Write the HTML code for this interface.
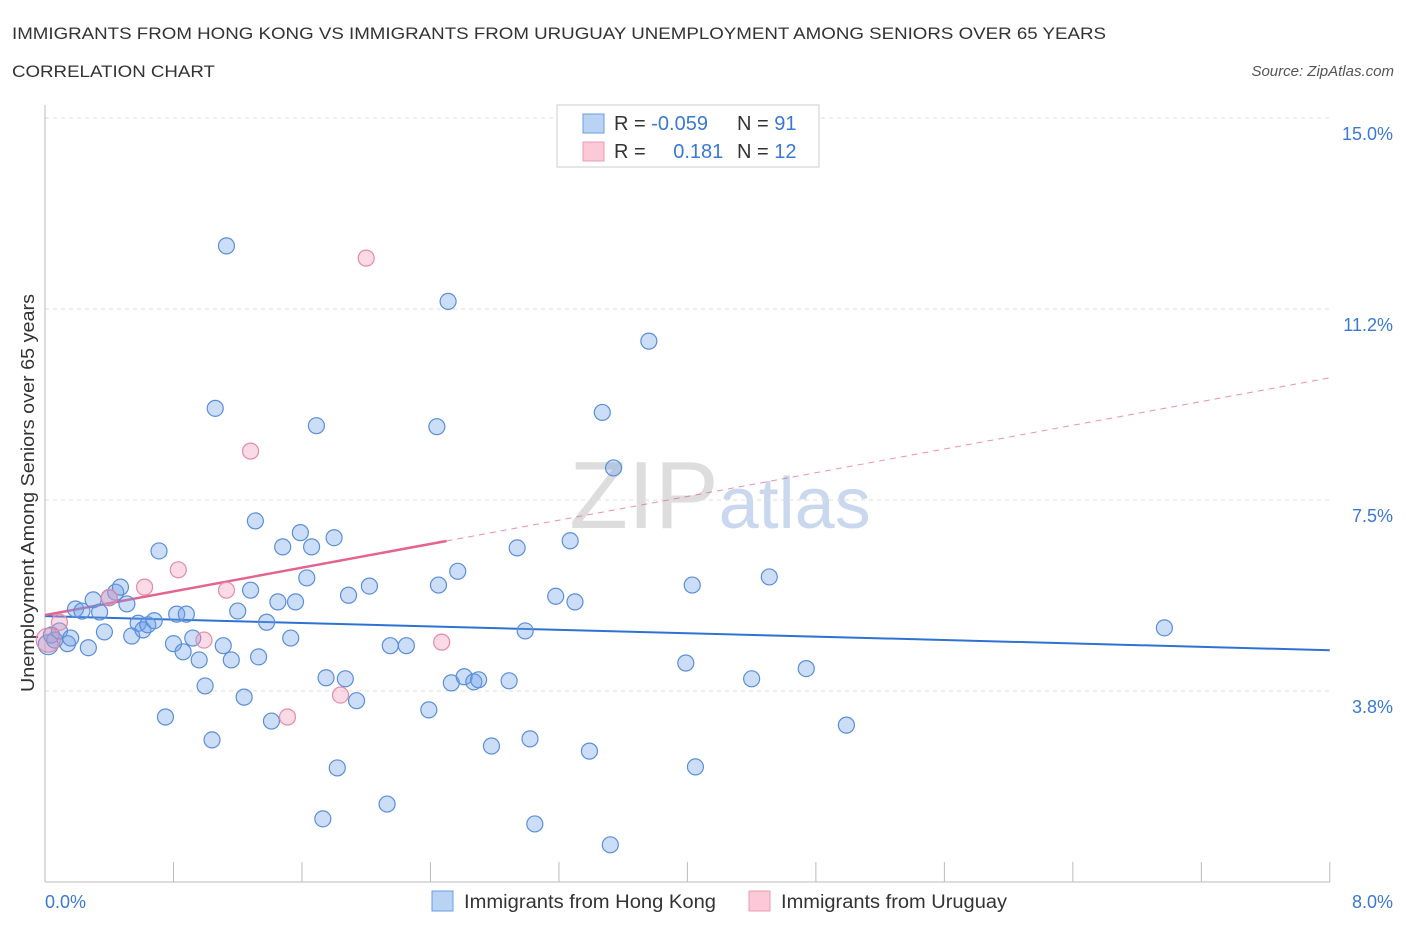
<!DOCTYPE html>
<html><head><meta charset="utf-8"><style>
body{margin:0;background:#fff;font-family:"Liberation Sans",sans-serif;}
svg text{font-family:"Liberation Sans",sans-serif;}
</style></head><body>
<svg width="1406" height="930">
<text x="12" y="39" font-size="17" fill="#333" textLength="1094" lengthAdjust="spacingAndGlyphs">IMMIGRANTS FROM HONG KONG VS IMMIGRANTS FROM URUGUAY UNEMPLOYMENT AMONG SENIORS OVER 65 YEARS</text>
<text x="12" y="77" font-size="17" fill="#333" textLength="203" lengthAdjust="spacingAndGlyphs">CORRELATION CHART</text>
<text x="1394" y="76" font-size="15" fill="#555" font-style="italic" text-anchor="end">Source: ZipAtlas.com</text>
<text x="720" y="528" font-size="96" fill="#ddd" text-anchor="middle" font-family="Liberation Serif">ZIP<tspan fill="#c9d8ee" font-family="Liberation Sans" font-size="72">atlas</tspan></text>
<g id="grid"></g>
<line x1="45" y1="105" x2="45" y2="882" stroke="#bbb"/>
<line x1="45" y1="882" x2="1330" y2="882" stroke="#bbb"/>
<g id="ticks"></g>
<text x="34" y="493" font-size="18" fill="#333" text-anchor="middle" textLength="398" lengthAdjust="spacingAndGlyphs" transform="rotate(-90 34 493)">Unemployment Among Seniors over 65 years</text>
<text x="45" y="908" font-size="18" fill="#3a78d4">0.0%</text>
<text x="1393" y="908" font-size="18" fill="#3a78d4" text-anchor="end">8.0%</text>
<g id="trend"></g>
<g id="pts"></g>
<g>
<rect x="557" y="105" width="262" height="62" fill="#fff" stroke="#ccc"/>
<rect x="583" y="114" width="21" height="19" fill="#b9d3f5" stroke="#6b9de0"/>
<rect x="583" y="142" width="21" height="19" fill="#fbc9d8" stroke="#e99ab4"/>
<text x="614" y="130" font-size="20" fill="#333">R = <tspan fill="#3a78d4">-0.059</tspan></text>
<text x="737" y="130" font-size="20" fill="#333">N = <tspan fill="#3a78d4">91</tspan></text>
<text x="614" y="158" font-size="20" fill="#333">R = <tspan fill="#3a78d4" dx="22">0.181</tspan></text>
<text x="737" y="158" font-size="20" fill="#333">N = <tspan fill="#3a78d4">12</tspan></text>
</g>
<g>
<rect x="432" y="891" width="21" height="20" fill="#b9d3f5" stroke="#6b9de0"/>
<text x="464" y="908" font-size="19" fill="#333" textLength="252" lengthAdjust="spacingAndGlyphs">Immigrants from Hong Kong</text></g>
<g>
<rect x="749" y="891" width="21" height="20" fill="#fbc9d8" stroke="#e99ab4"/>
<text x="781" y="908" font-size="19" fill="#333" textLength="226" lengthAdjust="spacingAndGlyphs">Immigrants from Uruguay</text></g>
</svg>
<script>
const yTicks=[15.0,11.25,7.5,3.75];
const yTickLabels=["15.0%","11.2%","7.5%","3.8%"];
const hkX=[0.02,0.04,0.06,0.09,0.14,0.16,0.19,0.23,0.27,0.30,0.34,0.37,0.40,0.44,0.47,0.51,0.54,0.58,0.61,0.64,0.68,0.71,0.75,0.80,0.82,0.86,0.88,0.92,0.96,0.997,1.04,1.06,1.11,1.13,1.16,1.20,1.24,1.28,1.31,1.33,1.38,1.41,1.45,1.48,1.53,1.56,1.59,1.63,1.66,1.69,1.73,1.75,1.80,1.82,1.87,1.89,1.94,2.02,2.13,2.15,2.25,2.39,2.44,2.45,2.51,2.53,2.57,2.61,2.67,2.70,2.78,2.89,2.94,2.99,3.02,3.05,3.18,3.27,3.30,3.39,3.47,3.52,3.54,3.76,3.99,4.03,4.05,4.40,4.51,4.74,4.99,6.97];
const hkY=[4.66,4.85,4.75,4.93,4.68,4.79,5.36,5.32,4.60,5.54,5.30,4.91,5.58,5.69,5.79,5.46,4.83,5.08,4.95,5.05,5.13,6.50,3.24,4.68,5.26,4.52,5.26,4.79,4.36,3.85,2.79,9.30,4.64,12.49,4.36,5.32,3.63,5.73,7.09,4.42,5.10,3.16,5.50,6.58,4.79,5.50,6.86,5.97,6.58,8.96,1.24,4.01,6.76,2.24,3.99,5.63,3.56,5.81,1.53,4.64,4.64,3.38,8.94,5.83,11.40,3.91,6.10,4.03,3.93,3.97,2.67,3.95,6.56,4.93,2.81,1.14,5.61,6.70,5.50,2.57,9.22,0.73,8.13,10.62,4.30,5.83,2.26,3.99,5.99,4.19,3.08,4.99];
const uyX=[0.02,0.09,0.40,0.62,0.83,0.99,1.13,1.28,1.51,1.84,2.00,2.47];
const uyY=[4.75,5.10,5.59,5.79,6.13,4.75,5.73,8.46,3.24,3.67,12.25,4.71];
const hkTrend=[5.22,4.55];
const uyTrend=[5.24,9.90];
const NS="http://www.w3.org/2000/svg";
const X=v=>45+v*160.6, Y=v=>882-v*50.93;
function mk(p,t,a){const e=document.createElementNS(NS,t);for(const k in a)e.setAttribute(k,a[k]);document.getElementById(p).appendChild(e);return e;}
yTicks.forEach((t,i)=>{
 const l=mk('grid','line',{x1:45,x2:1330,y1:Y(t),y2:Y(t),stroke:'#ddd','stroke-dasharray':'4 4'});
 
 
 const tx=mk('grid','text',{x:1393,y:Y(t)+22,'font-size':18,fill:'#3a78d4','text-anchor':'end'});
 tx.textContent=yTickLabels[i];
 
 
});
for(let i=0;i<=10;i++){
 const l=mk('ticks','line',{x1:X(i*0.8),x2:X(i*0.8),y1:862,y2:882,stroke:'#bbb'});
 
 
}
let t=mk('trend','line',{x1:X(0),y1:Y(hkTrend[0]),x2:X(8),y2:Y(hkTrend[1]),stroke:'#2e72d2','stroke-width':2});


const uy=v=>uyTrend[0]+(uyTrend[1]-uyTrend[0])*v/8;
t=mk('trend','line',{x1:X(0),y1:Y(uy(0)),x2:X(2.5),y2:Y(uy(2.5)),stroke:'#e4638f','stroke-width':2.5});


t=mk('trend','line',{x1:X(2.5),y1:Y(uy(2.5)),x2:X(8),y2:Y(uy(8)),stroke:'#e4638f','stroke-width':1,'stroke-dasharray':'6 5',opacity:0.7});


hkX.forEach((x,i)=>{
 const c=mk('pts','circle',{cx:X(x),cy:Y(hkY[i]),r:i==0?10:8,fill:'rgba(110,160,232,0.35)',stroke:'#5a8ed8','stroke-width':1.2});
 
 
});
uyX.forEach((x,i)=>{
 const c=mk('pts','circle',{cx:X(x),cy:Y(uyY[i]),r:i==0?12:8,fill:'rgba(242,150,180,0.35)',stroke:'#e68aa8','stroke-width':1.2});
 
 
});
</script>
</body></html>
